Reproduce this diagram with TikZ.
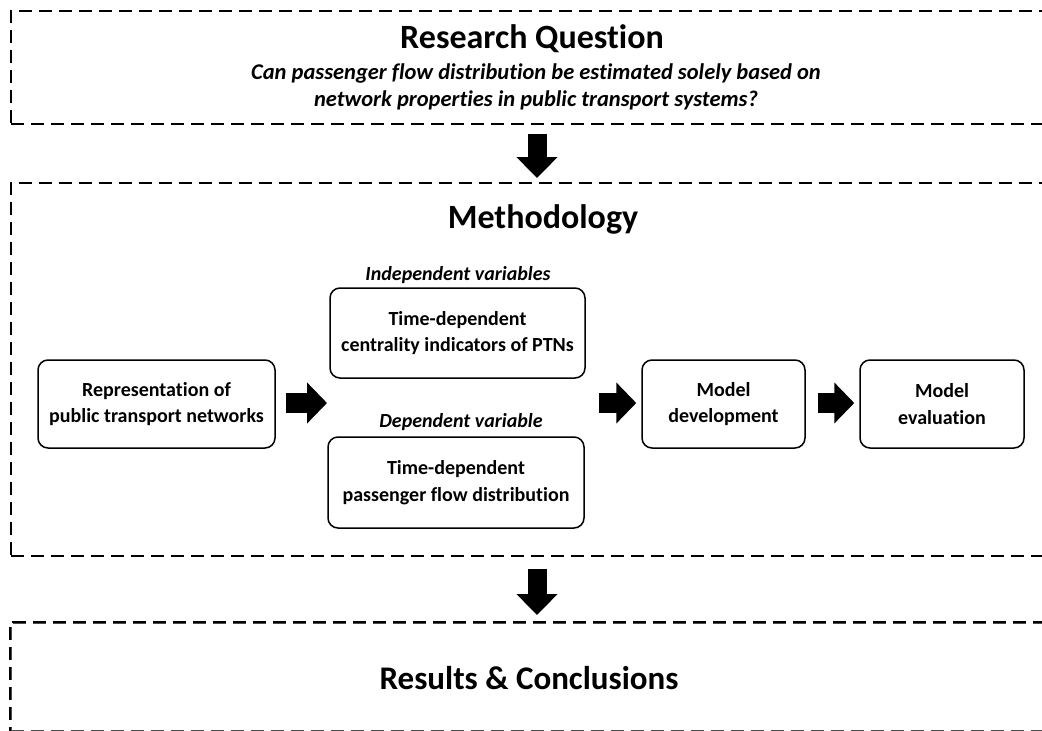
\documentclass[tikz,border=0pt]{standalone}
\usepackage{fontspec}
\setmainfont{Carlito}[Ligatures=NoCommon]
\usetikzlibrary{arrows.meta}
\begin{document}
\begin{tikzpicture}[x=1pt,y=-1pt,
  dashbox/.style={draw, dash pattern=on 13pt off 7pt, line width=1.5pt, minimum width=1054pt, anchor=north west, inner sep=0pt},
  procbox/.style={draw, rounded corners=10pt, line width=1.5pt, align=center, inner sep=0pt,
    font=\fontsize{20}{26.5}\selectfont\bfseries},
  titletext/.style={font=\fontsize{34}{40}\selectfont\bfseries, inner sep=0pt},
  itext/.style={font=\fontsize{20}{26}\selectfont\bfseries\itshape, inner sep=0pt},
  qtext/.style={font=\fontsize{22.5}{27}\selectfont\bfseries\itshape, align=center, inner sep=0pt},
  harrow/.style={line width=20pt, -{Triangle[length=20pt,width=40pt]}},
  varrow/.style={line width=19pt, -{Triangle[length=21pt,width=40pt]}}
]
\useasboundingbox (0,0) rectangle (1042,731);
\clip (0,0) rectangle (1042,731);

% containers
\node[dashbox, minimum height=113pt] (rq) at (10,10) {};
\node[dashbox, minimum height=373pt] (meth) at (10,182) {};
\node[dashbox, minimum height=107.5pt, draw=black!70] (res) at (10,622) {};
\draw[dash pattern=on 13pt off 7pt, line width=1.5pt] (res.north east) -- (res.north west) -- (res.south west);

% titles
\node[titletext] (rqt) at (532,39) {Research Question};
\node[qtext] (q) at (536,87) {Can passenger flow distribution be estimated solely based on\\network properties in public transport systems?};
\node[titletext] (mt) at (543,219) {Methodology};
\node[titletext, font=\fontsize{33}{40}\selectfont\bfseries] (rt) at (529,678) {Results \& Conclusions};

% process boxes
\node[procbox, minimum width=237pt, minimum height=88pt] (rep) at (156.5,404) {Representation of\\public transport networks};
\node[procbox, minimum width=255pt, minimum height=90pt] (cent) at (457.5,333) {Time-dependent\\centrality indicators of PTNs};
\node[procbox, minimum width=256pt, minimum height=91pt] (flow) at (456,482.5) {Time-dependent\\passenger flow distribution};
\node[procbox, minimum width=163pt, minimum height=88pt] (dev) at (723.5,404) {Model\\development};
\node[procbox, minimum width=164pt, minimum height=88pt] (eval) at (942,404) {Model\\evaluation};

\node[itext] (iv) at (458,275) {Independent variables};
\node[itext] (dv) at (461,422) {Dependent variable};

\coordinate (mid1) at (327,403);
\coordinate (mid2) at (599,403);

% arrows
\draw[varrow, shorten <=9pt, shorten >=4pt] (rq.south -| 537,0) -- (meth.north -| 537,0);
\draw[varrow, shorten <=12pt, shorten >=7pt] (meth.south -| 537,0) -- (res.north -| 537,0);
\draw[harrow, shorten <=10pt] (rep.east |- mid1) -- (mid1);
\draw[harrow, shorten >=5pt] (mid2) -- (dev.west |- mid2);
\draw[harrow, shorten <=12pt, shorten >=5pt] (dev.east |- mid2) -- (eval.west |- mid2);
\end{tikzpicture}
\end{document}
